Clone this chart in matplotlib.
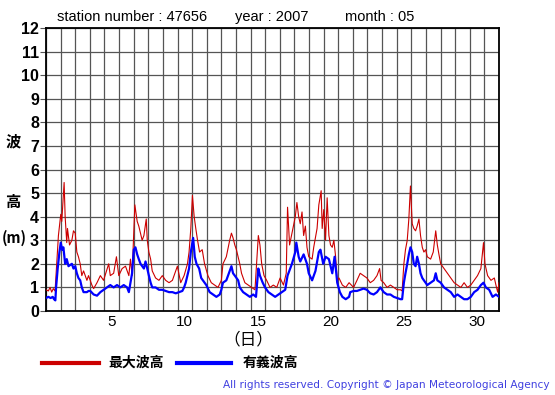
import matplotlib.pyplot as plt
from matplotlib.lines import Line2D

# day of month (fractional) and wave heights (m)
max_days = [1.00, 1.16, 1.28, 1.39, 1.50, 1.62, 1.73, 1.85, 2.01, 2.08, 2.24, 2.31, 2.42, 2.47, 2.61, 2.77,
            2.88, 3.00, 3.11, 3.22, 3.34, 3.45, 3.57, 3.80, 3.91, 4.14, 4.26, 4.49, 4.72, 4.94, 5.29, 5.40,
            5.63, 5.82, 5.98, 6.21, 6.44, 6.67, 6.78, 6.89, 7.08, 7.24, 7.35, 7.58, 7.70, 7.86, 7.93, 8.04,
            8.16, 8.27, 8.50, 8.73, 8.96, 9.19, 9.42, 9.65, 9.99, 10.22, 10.45, 10.68, 10.79, 10.91, 11.02,
            11.14, 11.25, 11.37, 11.51, 11.69, 11.85, 12.08, 12.31, 12.54, 12.77, 13.00, 13.11, 13.34,
            13.57, 13.69, 13.80, 13.92, 14.03, 14.26, 14.38, 14.61, 14.84, 15.07, 15.30, 15.53, 15.64,
            15.76, 15.92, 16.10, 16.33, 16.56, 16.79, 17.02, 17.25, 17.44, 17.53, 17.67, 17.83, 18.06,
            18.17, 18.29, 18.40, 18.52, 18.63, 18.75, 18.86, 18.98, 19.21, 19.32, 19.55, 19.67, 19.83,
            19.90, 20.01, 20.13, 20.24, 20.36, 20.47, 20.59, 20.70, 20.82, 20.93, 21.05, 21.28, 21.51,
            21.74, 22.05, 22.28, 22.50, 22.73, 22.96, 23.19, 23.42, 23.65, 23.83, 23.93, 24.11, 24.34,
            24.57, 24.80, 25.03, 25.26, 25.37, 25.49, 25.60, 25.72, 25.83, 25.94, 26.06, 26.17, 26.29,
            26.40, 26.52, 26.63, 26.75, 26.86, 26.98, 27.09, 27.32, 27.50, 27.67, 27.78, 27.89, 28.01,
            28.24, 28.47, 28.70, 28.93, 29.16, 29.39, 29.61, 29.84, 30.07, 30.30, 30.53, 30.76, 30.94,
            31.04, 31.22, 31.45, 31.68, 31.79, 31.91, 32.00]
max_wave = [0.9, 0.85, 1.0, 0.8, 0.95, 0.85, 2.0, 3.2, 4.1, 3.8, 5.45, 4.0, 2.9, 3.5, 2.8, 3.0,
            3.4, 3.3, 2.5, 2.3, 2.0, 1.5, 1.7, 1.3, 1.5, 1.1, 0.95, 1.2, 1.5, 1.3, 2.0, 1.5,
            1.6, 2.3, 1.5, 1.8, 1.9, 1.5, 2.2, 1.5, 4.5, 3.8, 3.6, 3.0, 3.2, 3.9, 3.0, 2.5,
            2.2, 1.7, 1.4, 1.3, 1.5, 1.3, 1.2, 1.3, 1.9, 1.2, 1.5, 2.0, 2.5, 3.5, 4.9,
            4.0, 3.5, 3.0, 2.5, 2.6, 2.0, 1.5, 1.2, 1.1, 1.0, 1.3, 2.0, 2.3,
            3.0, 3.3, 3.1, 2.8, 2.6, 2.0, 1.6, 1.2, 1.1, 1.0, 0.9, 3.2, 2.8,
            2.0, 1.5, 1.3, 1.0, 1.1, 1.0, 1.4, 1.1, 1.6, 4.4, 2.8, 3.3, 4.0,
            4.6, 4.0, 3.7, 4.2, 3.2, 3.6, 2.7, 2.3, 2.2, 2.7, 3.5, 4.5, 5.1,
            3.5, 4.3, 3.0, 4.8, 3.2, 2.8, 2.7, 3.0, 2.3, 1.3, 1.4, 1.1, 1.0,
            1.2, 1.0, 1.3, 1.6, 1.5, 1.4, 1.2, 1.3, 1.5, 1.8, 1.3, 1.2, 1.0,
            1.1, 1.0, 0.9, 0.9, 0.85, 2.0, 2.6, 3.0, 3.9, 5.3, 3.7, 3.5, 3.4,
            3.6, 3.9, 3.2, 2.7, 2.5, 2.6, 2.3, 2.2, 2.5, 3.4, 2.8, 2.4, 2.0,
            1.8, 1.6, 1.4, 1.2, 1.1, 1.0, 1.2, 1.0, 1.1, 1.3, 1.5, 1.8, 2.9,
            2.0, 1.5, 1.3, 1.4, 1.1, 0.8, 1.2]

sig_days = [1.00, 1.16, 1.32, 1.46, 1.55, 1.64, 1.69, 1.80, 1.92, 2.01, 2.10, 2.19, 2.31, 2.42, 2.54,
            2.77, 2.88, 3.00, 3.11, 3.22, 3.34, 3.45, 3.57, 3.80, 3.91, 4.03, 4.26, 4.49, 4.72, 4.94,
            5.17, 5.40, 5.63, 5.86, 6.09, 6.32, 6.55, 6.67, 6.78, 6.89, 7.01, 7.12, 7.24, 7.35, 7.47,
            7.70, 7.81, 7.93, 8.04, 8.16, 8.27, 8.50, 8.73, 8.96, 9.19, 9.42, 9.65, 9.88, 10.11, 10.33,
            10.45, 10.56, 10.79, 10.91, 11.07, 11.18, 11.30, 11.48, 11.62, 11.85, 11.97, 12.20, 12.43,
            12.66, 12.89, 13.00, 13.11, 13.34, 13.57, 13.69, 13.80, 13.92, 14.15, 14.26, 14.49, 14.72,
            14.95, 15.18, 15.37, 15.53, 15.64, 15.83, 15.99, 16.22, 16.45, 16.68, 16.91, 17.14, 17.37,
            17.53, 17.71, 17.83, 18.06, 18.13, 18.29, 18.40, 18.63, 18.86, 18.98, 19.21, 19.44, 19.67,
            19.78, 19.97, 20.13, 20.36, 20.59, 20.75, 20.93, 21.11, 21.28, 21.51, 21.74, 21.82, 22.05,
            22.28, 22.50, 22.73, 22.96, 23.19, 23.42, 23.65, 23.88, 24.11, 24.34, 24.57, 24.80, 25.03,
            25.26, 25.37, 25.49, 25.60, 25.72, 25.83, 25.94, 26.06, 26.17, 26.29, 26.40, 26.52, 26.63,
            26.75, 26.86, 27.09, 27.32, 27.55, 27.67, 27.78, 28.01, 28.24, 28.47, 28.70, 28.93, 29.16,
            29.39, 29.61, 29.84, 30.07, 30.30, 30.53, 30.76, 30.94, 31.10, 31.33, 31.56, 31.79, 32.00]
sig_wave = [0.55, 0.6, 0.55, 0.6, 0.5, 0.45, 1.0, 1.8, 2.5, 2.9, 2.6, 2.7, 2.0, 2.2, 1.9,
            2.0, 1.8, 1.9, 1.6, 1.4, 1.3, 1.0, 0.8, 0.8, 0.85, 0.85, 0.7, 0.65, 0.8, 0.9,
            1.0, 1.1, 1.0, 1.1, 1.0, 1.1, 1.0, 0.8, 1.2, 1.6, 2.6, 2.7, 2.4, 2.2, 2.0,
            1.8, 2.1, 1.8, 1.5, 1.2, 1.0, 1.0, 0.9, 0.9, 0.85, 0.8, 0.8, 0.75, 0.8, 0.85,
            1.0, 1.2, 1.8, 2.5, 3.1, 2.3, 2.0, 1.8, 1.4, 1.2, 1.1, 0.8, 0.7,
            0.6, 0.7, 0.9, 1.2, 1.3, 1.7, 1.9, 1.6, 1.5, 1.3, 1.0, 0.8, 0.7,
            0.6, 0.7, 0.6, 1.8, 1.5, 1.2, 1.0, 0.8, 0.7, 0.6, 0.7, 0.8, 0.9,
            1.5, 1.8, 2.0, 2.5, 2.9, 2.3, 2.1, 2.4, 2.0, 1.6, 1.3, 1.7, 2.5,
            2.6, 2.0, 2.3, 2.2, 1.6, 2.3, 1.2, 0.8, 0.6, 0.5, 0.6, 0.8, 0.85,
            0.85, 0.9, 0.95, 0.9, 0.75, 0.7, 0.8, 1.0, 0.8, 0.7, 0.7, 0.6, 0.55,
            0.5, 0.5, 1.2, 1.6, 2.0, 2.4, 2.7, 2.5, 2.0, 1.9, 2.3, 2.0, 1.6,
            1.4, 1.3, 1.1, 1.2, 1.3, 1.6, 1.3, 1.2, 1.0, 0.9, 0.8, 0.6, 0.7,
            0.6, 0.5, 0.5, 0.6, 0.8, 0.9, 1.1, 1.2, 1.0, 0.9, 0.6, 0.7, 0.6]

day_labels = [5, 10, 15, 20, 25, 30]
jp = ["Noto Sans CJK JP", "DejaVu Sans"]
sans = "Liberation Sans"

fig = plt.figure(figsize=(5.55, 3.95), dpi=100)
W, H = 555, 395
ax = fig.add_axes([46 / W, 84 / H, 453 / W, 283 / H])

ax.plot(max_days, max_wave, color="#cc0000", lw=0.8, zorder=3)
ax.plot(sig_days, sig_wave, color="#0000ff", lw=1.6, zorder=4)

ax.set_xlim(1, 32)
ax.set_ylim(0, 12)
ax.set_xticks(range(1, 33), minor=True)
ax.set_xticks([d + 0.5 for d in day_labels])
ax.set_xticklabels([str(d) for d in day_labels], fontsize=11, family=sans)
ax.set_yticks(range(0, 13))
ax.set_yticklabels([str(v) for v in range(0, 13)], fontsize=11.5, fontweight="bold", family=sans)
ax.tick_params(axis="x", which="both", length=0, pad=3)
ax.tick_params(axis="y", length=4, width=0.8, color="#555555", pad=1)
ax.grid(True, which="minor", axis="x", color="#555555", lw=0.9)
ax.grid(True, which="major", axis="y", color="#555555", lw=0.9)
for s in ax.spines.values():
    s.set_linewidth(1.3)

# header
fig.text(57 / W, 1 - 17 / H, "station number : 47656", fontsize=10.5, family=sans, va="center")
fig.text(235 / W, 1 - 17 / H, "year : 2007", fontsize=10.5, family=sans, va="center")
fig.text(345 / W, 1 - 17 / H, "month : 05", fontsize=10.5, family=sans, va="center")

# axis labels
fig.text(13 / W, 1 - 141 / H, "波", family=jp, fontsize=11, fontweight="bold", ha="center", va="center")
fig.text(13 / W, 1 - 202 / H, "高", family=jp, fontsize=11, fontweight="bold", ha="center", va="center")
fig.text(2 / W, 1 - 238 / H, "(m)", family=jp, fontsize=10.5, fontweight="bold", ha="left", va="center")
fig.text(248 / W, 1 - 340 / H, "（日）", family=jp, fontsize=12, ha="center", va="center")

# legend
fig.add_artist(Line2D([42 / W, 99 / W], [1 - 363 / H] * 2, color="#cc0000", lw=3))
fig.text(108 / W, 1 - 363 / H, "最大波高", family=jp, fontsize=10, fontweight="bold", va="center")
fig.add_artist(Line2D([177 / W, 231 / W], [1 - 363 / H] * 2, color="#0000ff", lw=3))
fig.text(243 / W, 1 - 363 / H, "有義波高", family=jp, fontsize=10, fontweight="bold", va="center")

fig.text(550 / W, 1 - 385 / H, "All rights reserved. Copyright © Japan Meteorological Agency",
         fontsize=7.6, color="#4040e0", ha="right", va="center")

fig.savefig("out.png", dpi=100)
